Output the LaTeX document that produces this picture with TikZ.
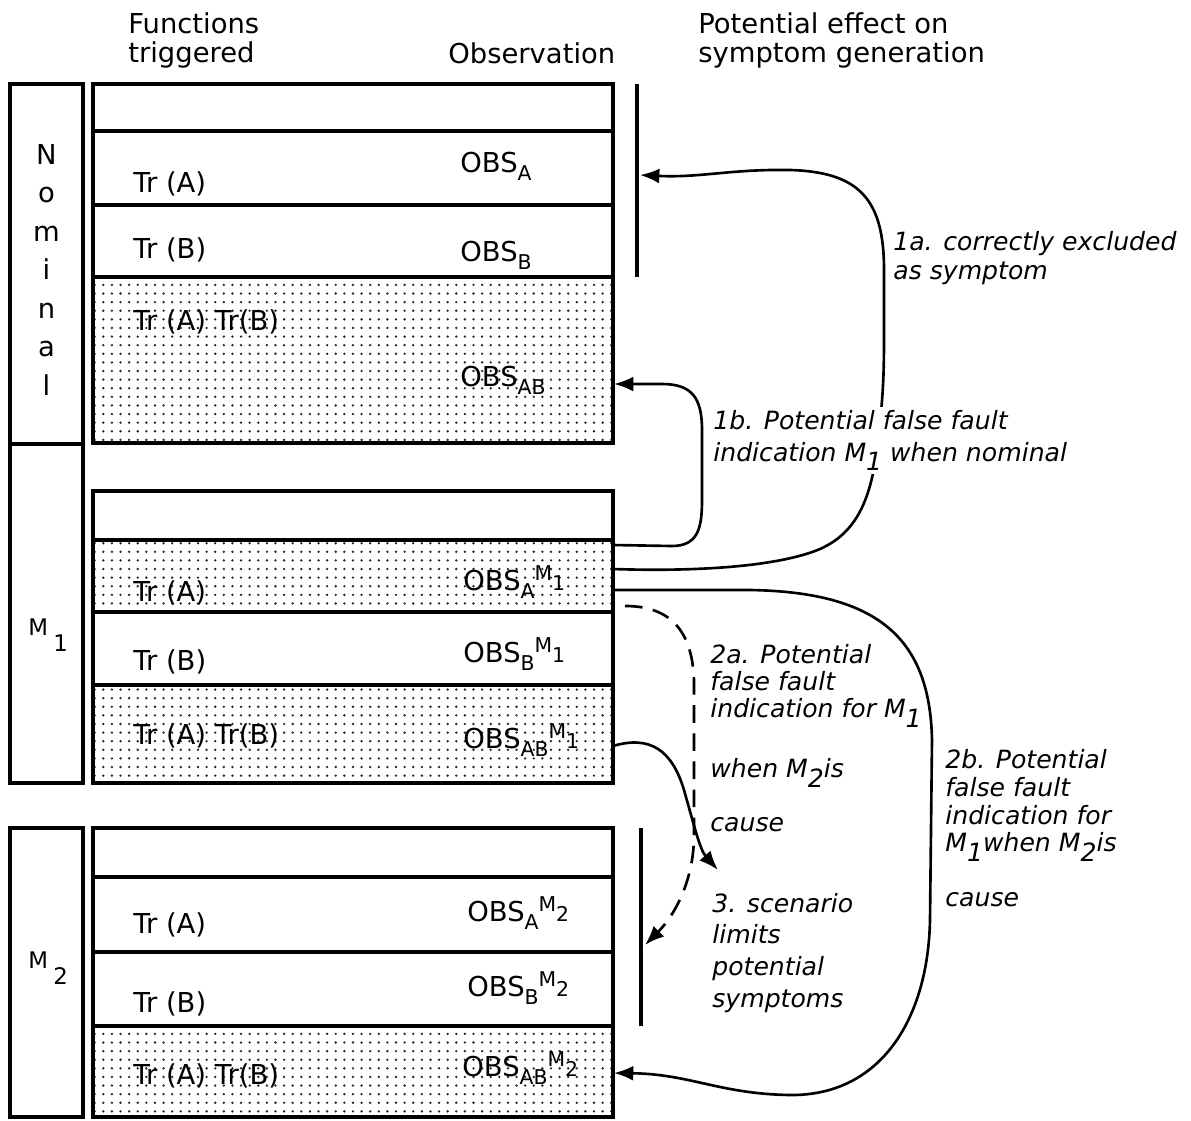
\documentclass[tikz,border=0pt]{standalone}
\usepackage{fontspec}
\setmainfont{DejaVu Sans}
\usetikzlibrary{patterns.meta,arrows.meta,calc}

% type sizes
\newcommand\mainsz{\fontsize{15.6pt}{16.4pt}\selectfont}
\newcommand\stacksz{\fontsize{15.6pt}{21.9pt}\selectfont}
\newcommand\lblsz[1]{\fontsize{14.3pt}{#1}\selectfont\itshape}
\newcommand\subsz{\fontsize{11.6pt}{12pt}\selectfont}
\newcommand\sidesz{\fontsize{13pt}{15pt}\selectfont}
% observation symbols: OBS with a subscript and an optional M_i superscript
\newcommand\obsx[1]{OBS\raisebox{-4.8pt}{\subsz #1}}
\newcommand\obsm[2]{OBS\raisebox{-5pt}{\subsz #1}\raisebox{5.5pt}{\subsz M}{\subsz #2}}
% M with a deep subscript, as used in the italic notes
\newcommand\mi[1]{M\raisebox{-5.5pt}{#1}}

\begin{document}
\begin{tikzpicture}[x=0.02cm, y=-0.02cm,
  box/.style={draw, line width=1.9pt, inner sep=0pt, outer sep=0pt},
  row/.style={box, minimum width=10.4cm, minimum height=#1*0.02cm},
  side/.style={box, minimum width=1.46cm, minimum height=#1*0.02cm},
  dotfill/.style={pattern={Dots[radius=0.75pt, distance=4.9pt]}, pattern color=black!85},
  rowtxt/.style={anchor=base west, inner sep=0pt, font=\mainsz},
  head/.style={anchor=base west, inner sep=0pt, align=left, font=\mainsz},
  lbl/.style={anchor=base west, inner sep=0pt, align=left, font=\lblsz{#1}},
  bar/.style={line width=1.9pt},
  conn/.style={line width=1.5pt, -{Latex[length=11pt, width=8.5pt]}},
  dconn/.style={conn, dash pattern=on 10pt off 6pt}]
\useasboundingbox (0,0) rectangle (1191,1120);

% column headings (anchored on their last line)
\node[head] (hFun) at (128,62) {Functions\\triggered};
\node[head] (hObs) at (448,63) {Observation};
\node[head] (hPot) at (698,62) {Potential effect on\\symptom generation};

% ---- nominal block
\node[side=360] (sNom) at (46.5,264) {};
\node[anchor=base, inner sep=0pt, align=center, font=\stacksz] (tNom) at (46.5,395) {N\\o\\m\\i\\n\\a\\l};
\node[row=47] (nomE) at (353,107.5) {};
\node[row=74] (nomA) at (353,168) {};
\node[row=72] (nomB) at (353,241) {};
\node[row=166, dotfill] (nomAB) at (353,360) {};
\node[rowtxt] (trNomA) at (133,192) {Tr (A)};
\node[rowtxt] (trNomB) at (133,258) {Tr (B)};
\node[rowtxt] (trNomAB) at (133,330) {Tr (A) Tr(B)};
\node[rowtxt] (obNomA) at (460,172) {\obsx{A}};
\node[rowtxt] (obNomB) at (460,261) {\obsx{B}};
\node[rowtxt] (obNomAB) at (460,386) {\obsx{AB}};
\coordinate (nbT) at (637,84);
\coordinate (nbB) at (637,277);
\draw[bar] (nbT) -- (nbB);

% ---- M1 block
\node[side=339] (sM1) at (46.5,613.5) {};
\node[anchor=base west, inner sep=0pt, font=\sidesz] (tM1) at (28,635) {M\hspace{3pt}\raisebox{-9.6pt}{1}};
\node[row=49] (m1E) at (353,515.5) {};
\node[row=72, dotfill] (m1A) at (353,576) {};
\node[row=73] (m1B) at (353,648.5) {};
\node[row=98, dotfill] (m1AB) at (353,734) {};
\node[rowtxt] (trM1A) at (133,601) {Tr (A)};
\node[rowtxt] (trM1B) at (133,670) {Tr (B)};
\node[rowtxt] (trM1AB) at (133,744) {Tr (A) Tr(B)};
\node[rowtxt] (obM1A) at (463,590) {\obsm{A}{1}};
\node[rowtxt] (obM1B) at (463,662) {\obsm{B}{1}};
\node[rowtxt] (obM1AB) at (463,748) {\obsm{AB}{1}};

% ---- M2 block
\node[side=289] (sM2) at (46.5,972.5) {};
\node[anchor=base west, inner sep=0pt, font=\sidesz] (tM2) at (28,968) {M\hspace{3pt}\raisebox{-9.6pt}{2}};
\node[row=49] (m2E) at (353,852.5) {};
\node[row=75] (m2A) at (353,914.5) {};
\node[row=74] (m2B) at (353,989) {};
\node[row=91, dotfill] (m2AB) at (353,1071.5) {};
\node[rowtxt] (trM2A) at (133,933) {Tr (A)};
\node[rowtxt] (trM2B) at (133,1012) {Tr (B)};
\node[rowtxt] (trM2AB) at (133,1084) {Tr (A) Tr(B)};
\node[rowtxt] (obM2A) at (467,921) {\obsm{A}{2}};
\node[rowtxt] (obM2B) at (467,996) {\obsm{B}{2}};
\node[rowtxt] (obM2AB) at (462,1076) {\obsm{AB}{2}};
\coordinate (mbT) at (641,828);
\coordinate (mbB) at (641,1026);
\draw[bar] (mbT) -- (mbB);

% ---- connectors
\coordinate (e1a) at (640,175);
\coordinate (s2a) at (625,606);
\coordinate (e2a) at (645,945);
\coordinate (e3) at (718,870);

\draw[conn] ($(m1A.east)+(0,-7)$) .. controls (700,572) and (780,566) .. (820,549)
  .. controls (856,533) and (872,500) .. (878,440)
  .. controls (882,405) and (884,385) .. (884,340) -- (884,270)
  .. controls (884,200) and (860,172) .. (790,170)
  .. controls (730,169) and (700,178) .. (e1a);

\draw[conn] ($(m1A.north east)+(0,5)$) -- (672,546)
  .. controls (698,546) and (702,528) .. (702,500) -- (702,430)
  .. controls (702,398) and (692,384) .. (662,384) -- ($(nomAB.east)+(1,24)$);

\draw[conn] ($(m1A.east)+(0,14)$) -- (750,590)
  .. controls (880,592) and (930,640) .. (932,740) -- (930,920)
  .. controls (928,1020) and (880,1096) .. (790,1095)
  .. controls (720,1094) and (690,1074) .. ($(m2AB.east)+(1,1.5)$);

\draw[conn] ($(m1AB.east)+(0,12)$) .. controls (650,735) and (672,750) .. (684,790)
  .. controls (694,825) and (700,850) .. (e3);

\draw[dconn] (s2a) .. controls (665,606) and (692,625) .. (694,680) -- (694,835)
  .. controls (694,880) and (675,915) .. (e2a);

% ---- notes (anchored on their last line); 1b sits on a white ground over the 1a line
\node[lbl=16.4pt] (n1a) at (893,279) {1a. correctly excluded\\as symptom};
\node[lbl=18pt, fill=white, inner sep=2pt] (n1b) at (709.5,461) {1b. Potential false fault\\indication \mi{1} when nominal};
\node[lbl=15.3pt] (n2a) at (710,831) {2a. Potential\\false fault\\indication for \mi{1}\\[17pt]when \mi{2}is\\[15pt]cause};
\node[lbl=15.8pt] (n2b) at (945,906) {2b. Potential\\false fault\\indication for\\\mi{1}when \mi{2}is\\[15pt]cause};
\node[lbl=18pt] (n3) at (712,1007) {3. scenario\\limits\\potential\\symptoms};
\end{tikzpicture}
\end{document}
